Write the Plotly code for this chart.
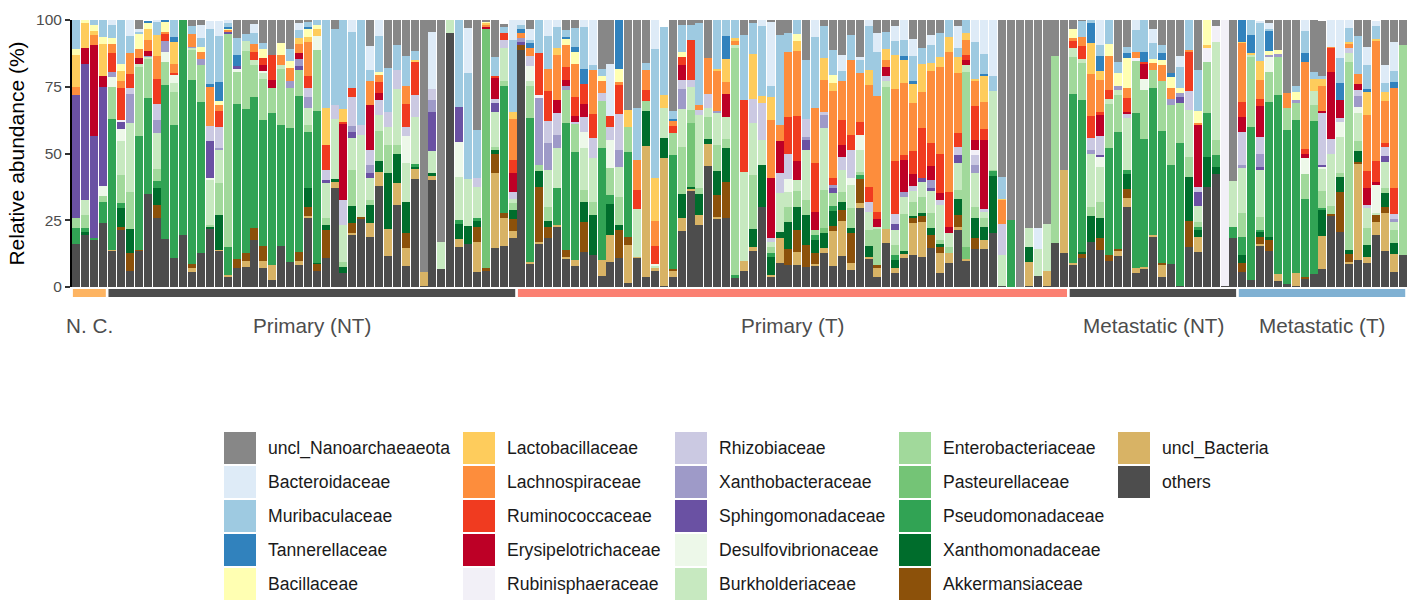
import plotly.graph_objects as go

# ---------------- data (relative abundance, %) ----------------
# 150 samples, left to right
group_names = ["N. C.", "Primary (NT)", "Primary (T)", "Metastatic (NT)", "Metastatic (T)"]
group_sizes = [4, 46, 62, 19, 19]
group_colors = ["#fdb462", "#4d4d4d", "#fb8072", "#4d4d4d", "#80b1d3"]

legend_names = [
    "uncl_Nanoarchaeaeota", "Bacteroidaceae", "Muribaculaceae", "Tannerellaceae", "Bacillaceae",
    "Lactobacillaceae", "Lachnospiraceae", "Ruminococcaceae", "Erysipelotrichaceae", "Rubinisphaeraceae",
    "Rhizobiaceae", "Xanthobacteraceae", "Sphingomonadaceae", "Desulfovibrionaceae", "Burkholderiaceae",
    "Enterobacteriaceae", "Pasteurellaceae", "Pseudomonadaceae", "Xanthomonadaceae", "Akkermansiaceae",
    "uncl_Bacteria", "others",
]
legend_colors = [
    "#878787", "#deebf7", "#9ecae1", "#3182bd", "#ffffb2",
    "#fecc5c", "#fd8d3c", "#f03b20", "#bd0026", "#f2f0f7",
    "#cbc9e2", "#9e9ac8", "#6a51a3", "#edf8e9", "#c7e9c0",
    "#a1d99b", "#74c476", "#31a354", "#006d2c", "#8c510a",
    "#d8b365", "#4d4d4d",
]

others = [16, 19.5, 17.5, 24, 13.5, 21.3, 6, 13.5, 34.7, 26,
          18, 11, 19.5, 5.7, 12.6, 22, 13.5, 4.1, 7, 7.6,
          17.6, 7, 2.6, 15.4, 9.5, 8.2, 25.7, 6.1, 11, 37,
          5.1, 19.5, 25.7, 18.9, 37.8, 11.6, 30.7, 8, 40.4, 0.4,
          40, 6.7, 95.2, 15.1, 16, 5.6, 6.1, 14.5, 15.4, 18.5,
          88.9, 8.6, 16.1, 18.5, 22.6, 10.7, 8, 13.2, 12, 4.1,
          9.5, 10.7, 1.6, 11, 3.9, 6.1, 0.4, 3.6, 21.1, 36.1,
          23.2, 45.3, 25.7, 25.7, 3.2, 6.1, 13.6, 29.9, 3.9, 8.9,
          8.2, 8.2, 7.6, 8.2, 12.9, 7.9, 11.6, 6.4, 29.5, 10.7,
          3.9, 16.6, 5.1, 10.7, 12, 11.1, 14.5, 5.1, 8.9, 21.4,
          10.1, 14.1, 14.1, 20.1, 0.4, 0, 0, 0.4, 4.1, 0.4,
          16.6, 12.6, 8.6, 10.7, 17, 13.9, 9.9, 11.6, 30.1, 5.4,
          7, 18.6, 3.9, 8.6, 0.4, 15.1, 13.2, 37.3, 42.3, 0.4,
          18.5, 5.7, 2.6, 15.5, 13.5, 2.2, 1.2, 0.5, 3.2, 4.7,
          6.7, 26.7, 20.7, 8.9, 10.1, 8.9, 19.5, 13.5, 5.7, 12]

uncl_bacteria = [0, 0, 0, 0, 0.4, 0, 0, 0, 0, 0,
                 0, 0, 0, 1.5, 0, 0, 0.4, 0.4, 0, 2.1,
                 0, 2.7, 5.6, 0, 0, 1.5, 0.9, 0, 0, 2.5,
                 0, 0.9, 0, 5, 5.4, 10, 8.1, 6.5, 4, 5.4,
                 1.5, 0, 0, 2.7, 0, 11.2, 0, 28.1, 10.4, 2.6,
                 0, 0.9, 0.9, 0, 0.6, 0.6, 2.1, 0, 0, 6,
                 10, 0, 14.1, 0.4, 48.8, 1, 47.9, 2.5, 4.6, 0.9,
                 3.7, 8.2, 0.6, 0, 0, 3.7, 1.2, 0, 0.6, 9.6,
                 0, 5, 0, 0.6, 1.6, 12.9, 13.1, 2.5, 2.1, 0.6,
                 3.1, 5, 1.9, 1.6, 11.9, 13.4, 0, 7.7, 3.7, 1,
                 0.5, 0, 3.5, 0, 0, 0, 0, 9.1, 0, 5.7,
                 0, 31.2, 0.5, 0, 0, 0, 0, 2.2, 3.1, 1.6,
                 0.6, 0.9, 4.4, 0, 0, 0, 5.4, 0, 0, 0,
                 0, 0, 0, 0.5, 0, 2.7, 0, 4.6, 0, 0,
                 12.4, 0, 0, 0.6, 36.2, 2.5, 5, 14.1, 6.5, 0]

akkermansiaceae = [0, 0, 0, 0, 0, 1.2, 6.9, 0.4, 0, 4.7,
                   0, 0, 0, 1.6, 0, 0, 0, 0, 3.5, 3.2,
                   4.6, 5.7, 0, 0, 0, 3.5, 3.5, 2.7, 10.4, 0,
                   0, 3.5, 0.4, 0, 0, 0, 0, 5.6, 0, 0,
                   0, 0, 0, 0, 0, 5.5, 0.9, 7.2, 1.9, 4.4,
                   1.9, 0, 20.4, 3.9, 0, 2.5, 0, 11.2, 0, 0,
                   0, 10.6, 3.1, 0, 0, 0, 0, 0.5, 0, 0,
                   0, 0, 8.1, 13.7, 0, 0, 0, 0, 0, 0,
                   6.2, 8.1, 8.1, 4, 0, 2.1, 4.1, 11.2, 8.7, 0,
                   1.2, 0, 0, 0, 1.9, 2.1, 5, 2.5, 0, 4.6,
                   0, 4.1, 0, 0, 0, 0, 0, 0, 0, 0,
                   0, 0, 0, 1.9, 0, 4.4, 2.1, 0.6, 3.4, 0,
                   0, 0, 0.6, 0, 0, 9.7, 0, 0, 0, 0,
                   0, 3.4, 0, 2.9, 4.1, 0, 0, 0, 0.4, 0,
                   0, 0.5, 15, 2.7, 0.6, 0, 2.5, 2.5, 0, 0]

xanthomonadaceae = [0, 1, 0, 0, 0, 7.1, 8.7, 0, 0, 6.5,
                    0, 0, 0, 0, 0, 0.6, 12.9, 0, 0, 0,
                    0, 0, 0, 0, 0, 0, 6.9, 0.3, 1.9, 1,
                    2.5, 6.5, 0, 6.9, 4.1, 21, 11.2, 11.9, 0.6, 0,
                    1.2, 0, 0, 5.7, 6.9, 2.5, 0, 1.5, 0, 3.4,
                    0, 0, 6.1, 2.5, 0, 0, 0, 7.5, 15, 0,
                    11.6, 1.9, 0, 0, 13.1, 0, 7.5, 0, 9.1, 0.6,
                    7.9, 2.1, 9.1, 12.5, 0, 0, 7.1, 15.9, 6.6, 2,
                    10, 8.7, 11.2, 4.7, 5.6, 5.4, 3.1, 1.9, 0, 4,
                    0, 0, 3.1, 1.2, 0.9, 1, 2.5, 0.7, 0, 5.9,
                    0, 7.5, 5, 21.5, 0, 0, 0, 5.4, 0, 0,
                    0, 0, 0, 0.6, 9.6, 7.5, 0, 0, 5.7, 0,
                    0, 0, 0, 0, 0, 16.5, 2.7, 11.5, 2.5, 0,
                    0, 2.9, 0, 1.9, 1.2, 0, 0, 0, 0, 0,
                    10.1, 0, 5.4, 1.6, 4, 4.4, 0, 5, 4.1, 0]

pseudomonadaceae = [6, 1.5, 1, 8, 49, 1.9, 0, 42.8, 36.2, 2.5,
                    57.7, 49.7, 80.5, 68.7, 56.6, 0, 0, 10.6, 58.1, 53.7,
                    49.1, 47.2, 56.8, 45.4, 50, 58.4, 21.2, 56.8, 0, 0,
                    0, 0, 0, 0, 0, 0, 0, 0, 1.2, 0,
                    0, 0, 0, 1.5, 0, 0.9, 0, 0, 47.7, 0,
                    0, 53.7, 0, 0, 13.7, 47.8, 40.6, 0, 0, 41.9,
                    3.4, 0, 31.9, 0, 0, 0, 0, 42.8, 0, 0,
                    0, 0, 0, 0, 1.2, 0, 0, 0, 1.5, 0,
                    0, 0, 0, 1.9, 0, 1.9, 0, 0, 1.6, 0,
                    0, 0, 1.9, 0, 0, 0, 0, 0, 0, 0,
                    0, 0, 0, 2, 0, 25.1, 0, 0, 0, 0,
                    0, 0, 63.2, 56.9, 0, 0, 40, 43.7, 1.5, 58.1,
                    47.7, 55, 49.4, 37, 53.7, 0, 1, 16.2, 4.6, 0,
                    4.1, 6.9, 57.2, 0.4, 50.6, 66.9, 57.5, 57.4, 29.3, 57.4,
                    0.5, 0, 0, 0, 0, 0, 0, 0, 0, 0]

pasteurellaceae = [0, 0, 0, 0, 0, 0, 0, 0, 0, 0,
                   0, 0, 0, 0, 0, 0, 0, 0, 0, 0,
                   0, 0, 0, 0, 0, 0, 0, 0, 0, 0,
                   0, 0, 0, 0, 0, 0, 0, 0, 0, 0,
                   0, 0, 0, 0, 0, 0, 90, 0, 0, 0,
                   0, 0, 0, 0, 0, 0, 0, 0, 0, 0,
                   0, 0, 0, 0, 0, 0, 0, 0, 0, 23.7,
                   0, 0, 0, 0, 0, 0, 0, 0, 0, 0,
                   0, 0, 0, 0, 1.9, 0, 0, 0, 0, 0,
                   0, 0, 0, 0, 0, 0, 0, 0, 0, 0,
                   4.5, 0, 0, 0, 0, 0, 0, 0, 0, 0,
                   0, 0, 0, 0, 0, 0, 0, 0, 0, 0,
                   0, 0, 0, 0, 0, 0, 0, 0, 0, 0,
                   0, 0, 0, 0, 0, 0, 0, 0, 0, 0,
                   0, 0, 0, 0, 0, 0, 0, 0, 0, 0]

enterobacteriaceae = [4, 5, 0, 2, 12.1, 10.4, 14.1, 25.8, 14.7, 4.5,
                      8.7, 12.5, 0, 11.2, 14, 0.6, 12.1, 80, 12.1, 21.7,
                      11.9, 15.4, 9.6, 21, 15, 9.7, 2.5, 23, 2.5, 0,
                      1.9, 13.5, 0, 1.9, 11.2, 10.6, 3.1, 0, 0, 0,
                      0, 0, 0, 0, 0, 0, 0, 1.2, 1.9, 2.5,
                      0, 11.9, 2.2, 5.2, 0, 12.1, 10.6, 4.4, 5, 17.5,
                      10, 10.6, 9.4, 0, 3.7, 0, 0, 8.4, 17.7, 5,
                      2.1, 7.9, 9.6, 3.7, 85, 0, 20, 0, 2.5, 0,
                      5.6, 6, 5.6, 1.9, 14.4, 5, 3.7, 7.5, 1.2, 6,
                      13.7, 53.4, 3.7, 14, 5, 6, 5.6, 1.5, 2.5, 3.5,
                      65.6, 4.4, 3.1, 0.2, 0, 0, 0, 0, 0, 0,
                      70, 0, 13.7, 13.7, 3.5, 6.2, 16.6, 13.7, 0, 19.4,
                      18.5, 6.9, 18.7, 22.5, 14.7, 7.5, 2.1, 19.4, 5.6, 0,
                      0, 8.7, 26.2, 4.9, 11.2, 14.4, 8.4, 6.6, 9.4, 6,
                      6.2, 3.2, 1.5, 70.5, 3.7, 6.2, 0, 1.9, 5, 78.7]

burkholderiaceae = [0, 5.5, 0, 0, 0, 12.7, 25.8, 1.2, 0.6, 13.4,
                    0, 3.1, 0, 0.9, 0, 16.9, 12.5, 0, 0, 3.7,
                    1.9, 2.5, 0, 1.2, 0, 0, 6.2, 0, 13, 22.5,
                    13.7, 11.9, 30.9, 8.1, 5.9, 6.6, 21.2, 14.4, 17.5, 0,
                    8.2, 10.2, 4.8, 16.2, 17.5, 11.9, 0, 13.1, 12.2, 1.6,
                    0, 2.2, 0, 13.7, 15, 0, 0, 15.6, 16.2, 0,
                    0, 11.2, 0, 17.7, 0, 0.9, 11.2, 0, 14, 8.5,
                    27.5, 3.7, 11.9, 8.1, 1.2, 33.4, 19.4, 9.4, 1.9, 14.6,
                    5.6, 4.2, 18.7, 0, 23.1, 0, 8.1, 8.7, 8.1, 6.9,
                    0.6, 2.2, 5.6, 6.2, 4.2, 5.9, 8.7, 13.1, 5, 10.2,
                    2.4, 12.5, 2.5, 29.7, 11.6, 0, 0, 7.1, 10, 17.5,
                    0, 0, 3.7, 1.5, 19.7, 13.1, 1.7, 1.9, 19.4, 0,
                    0, 0, 0, 0, 0, 17.5, 5.9, 0, 36.8, 0,
                    17.2, 16.9, 0.9, 17.9, 0, 0, 0, 0, 0, 5.2,
                    8.2, 19.6, 13.7, 3.5, 10.4, 7.5, 0.6, 10, 2.9, 0]

desulfovibrionaceae = [0, 0, 0, 4, 3.7, 4.4, 0, 0, 0, 0,
                       3.7, 3.1, 0, 0, 0, 0.6, 0, 0, 1, 0,
                       0, 0.5, 0, 0, 0, 0, 0, 5.2, 0, 0,
                       0, 0, 0, 0, 0, 0, 0, 10, 0, 0,
                       0, 0, 0, 13.1, 0, 0, 0, 0, 0, 0,
                       0, 5.5, 0, 0, 0, 0, 0, 6.2, 0, 0,
                       10.6, 0, 0, 0, 0, 0.6, 0, 0, 0, 0,
                       0, 0, 0, 0, 0, 0, 0, 0, 0, 0,
                       5, 0, 0, 0, 0, 0, 0, 2.5, 5.6, 0,
                       0, 0, 0, 0, 0, 0, 0, 0, 0, 0,
                       0, 0, 0, 0, 0, 0, 0, 0, 0, 0,
                       0, 0, 0, 0, 0, 3.7, 0, 0, 0, 0,
                       4.2, 0, 0, 0, 0, 0, 0, 0, 0, 0,
                       0, 0, 0, 0, 5.6, 0, 0, 0, 5.9, 0,
                       0.9, 0, 5.4, 0, 2.5, 0, 10.6, 0, 0, 0]

sphingomonadaceae = [46, 51, 38, 37, 0, 2.9, 0, 0, 0, 0,
                     0, 0, 0, 0, 0, 14, 0, 0.6, 1.2, 0,
                     0, 0, 0, 0, 0, 1.5, 0, 0, 1.2, 0,
                     0, 2.1, 0, 1.9, 0, 0, 0, 0, 0, 0,
                     14.6, 0, 0, 13.1, 0, 0, 0, 3.4, 0, 0,
                     1, 0, 0, 0, 0, 0, 0, 0, 0, 0,
                     0, 0, 0, 0, 0, 0, 0, 0, 0, 0,
                     0, 0, 0, 0, 0, 0, 0, 0, 0, 0,
                     0, 0, 4, 0, 0, 1.9, 0, 0, 0, 0,
                     0, 0, 2.2, 0, 0, 1.2, 0.6, 0, 0, 2.9,
                     0, 0, 0, 0, 0, 0, 0, 0, 0, 0,
                     0, 0, 0, 0, 0, 0.6, 0, 0, 0, 0,
                     0, 0, 0, 0, 2.2, 0, 5.4, 0, 0, 0,
                     0, 0, 0, 1, 0, 0, 0, 0, 0, 0,
                     0.6, 0, 0, 0, 0, 0, 0, 2.2, 0, 0]

xanthobacteraceae = [0, 0, 0, 0, 1.9, 0, 10.7, 0, 0.4, 5,
                     4, 0, 0, 0.4, 2.2, 0, 0.6, 0, 0, 0,
                     0, 0, 0, 0, 2.5, 2.5, 4.4, 0, 0, 0,
                     0, 2.5, 0, 3.1, 0, 0, 0, 0, 0, 0,
                     4.4, 0, 0, 0, 0, 0, 0, 0, 0, 0,
                     1.5, 0, 25, 10.2, 5, 1.6, 0, 0, 0, 0,
                     0, 6.2, 0, 0, 0, 0, 0, 0, 7.5, 0,
                     0, 0, 1, 0, 0, 0, 0, 0, 0, 0,
                     0, 0, 1, 0, 5, 1.2, 0, 0, 0, 0,
                     0, 0, 0, 1.9, 0, 0, 3.1, 0, 0, 0,
                     0, 3.1, 0, 0, 0, 0, 0, 0, 0, 0,
                     0, 0, 0, 0, 1.5, 0, 0, 1.5, 0, 0,
                     0, 0, 0, 2.5, 1.7, 0, 0, 0, 0, 0,
                     0, 1.2, 0, 5, 0.6, 1, 0, 0.9, 0, 0,
                     0, 0, 0, 0, 4.1, 0, 0, 0, 1.2, 0]

rhizobiaceae = [0, 0, 0, 0, 0, 0, 2.4, 0, 0, 5.9,
                0, 0, 0, 0, 0, 5.7, 8.1, 0, 0, 0,
                0, 0, 0, 0, 0, 0, 3.1, 0, 3.7, 5,
                9.4, 10.7, 3.5, 5.4, 5.6, 5.9, 6.9, 3.4, 8.1, 0,
                4.4, 0, 0, 0, 0, 3.4, 0, 1.4, 2.9, 2.7,
                0, 3.7, 0, 8.2, 8.1, 0, 0.6, 5.6, 7.5, 3.1,
                4.7, 13.7, 0, 0, 0, 0, 0, 0, 3.5, 2.7,
                1.9, 5.2, 0, 0, 0, 0, 9, 13.7, 1.2, 7.5,
                9.1, 0, 6.9, 0, 0.9, 0, 5, 10.6, 0, 3.7,
                0, 1.7, 4, 0, 1.9, 0, 0, 1.9, 0, 3.1,
                0, 3.7, 1.2, 0, 11.6, 0, 0, 0, 0, 0,
                0, 0, 0, 0, 4.4, 7.1, 0, 0, 1.9, 0,
                0, 0, 0, 0, 0, 7.2, 1.6, 0, 0, 0,
                0, 12.5, 0, 6.1, 0, 0, 0, 0, 0, 0,
                19.6, 5.4, 1.7, 1.9, 2.1, 1.2, 0, 3.4, 1.9, 0]

rubinisphaeraceae = [0, 0, 0, 0, 0, 0.5, 0, 0, 0, 0,
                     0, 0, 0, 0, 0, 0, 0, 0, 0, 0,
                     0, 0, 0, 0, 0, 0, 0, 0, 0, 0,
                     0, 0, 0, 0, 0, 0, 0, 0, 0, 0,
                     0, 0, 0, 0, 0, 0, 0, 0, 0, 0,
                     0, 0, 1.2, 0, 0, 0, 0, 0, 0, 0,
                     0, 0, 0, 0, 0, 0, 0, 0, 0, 0,
                     0, 0, 0, 0, 0, 0, 0, 0, 0, 0,
                     0, 0, 0, 0, 0, 0, 0, 0, 0, 0,
                     0, 0, 0, 0, 0, 0, 0, 0, 0, 0,
                     0, 1.9, 0, 0, 0, 0, 0, 0, 0, 0,
                     0, 0, 0, 0, 0, 0, 0, 0, 0, 1.2,
                     0, 0, 0, 0, 0, 0, 0, 5, 5.9, 99.6,
                     0, 0, 0, 0, 0, 0, 0, 0, 0, 0,
                     0, 0, 0, 0, 0, 0, 0, 0, 0, 0]

erysipelotrichaceae = [0, 6, 34, 4, 0, 0, 0, 2.1, 1.7, 0,
                       0, 0, 0, 0, 0, 0, 0, 0, 0, 0,
                       0, 2.2, 2.9, 0, 0, 2.2, 0, 0, 0, 0,
                       28.7, 0, 0, 16.8, 2.5, 0, 0, 0, 0, 0,
                       0, 0, 0, 0, 0, 0, 0.6, 8.1, 0, 6.9,
                       0, 0, 0, 0, 5, 2.1, 2.1, 4.7, 0, 0,
                       0, 0, 0, 0, 0, 0, 0, 0, 5.6, 0,
                       0, 0, 0, 8.5, 0, 0, 0, 0, 22.5, 12.2,
                       0, 6.9, 0, 6.9, 0, 0, 4.4, 0, 0, 0,
                       3.1, 3.5, 0, 11.9, 4.4, 0, 5.2, 2.7, 2.5, 0,
                       1.9, 3.7, 25.8, 0, 0, 0, 0, 0, 0, 0,
                       0, 0, 0, 0, 0, 7.9, 0, 0, 0.6, 0,
                       5.4, 0, 0, 0, 0, 0, 23.4, 0, 0, 0,
                       0, 5.6, 0, 11.6, 0, 0, 0, 0, 1.6, 0,
                       0.7, 25, 6.6, 0, 2.5, 6.5, 1.2, 0, 0, 0]

ruminococcaceae = [0, 0, 0, 0, 7.2, 12.2, 5, 0, 0, 9.5,
                   2.5, 0.6, 0, 0, 0, 0, 5.9, 0, 0, 0,
                   2.9, 2.5, 9.4, 0, 0, 0, 4.6, 0, 9.4, 0,
                   0.6, 3.4, 0, 0, 4.4, 0, 0, 8.9, 12.7, 0,
                   0, 0, 0, 0, 0, 0, 0, 0.5, 2.7, 5,
                   0, 0, 15.9, 11.2, 0, 5, 7.2, 7.7, 9.1, 0,
                   4.2, 10.6, 0, 7.2, 4.4, 6.9, 0, 2.5, 3.1, 15,
                   0, 0, 0, 0, 0, 26.9, 0, 0, 0, 0,
                   14, 16.9, 0, 18.1, 0, 2.5, 9.4, 5.6, 5, 5.6,
                   2.5, 0, 19.7, 1.9, 8.7, 18.7, 8.7, 14.5, 13.1, 5.2,
                   1.9, 12.7, 4.1, 0, 0, 0, 0, 0, 0, 0,
                   0, 0, 2.5, 5, 8.4, 1.3, 3.5, 0, 5, 0,
                   1, 0, 0, 0, 0, 14.6, 0, 0, 0, 0,
                   0, 5.6, 0, 2.9, 0, 0, 0, 0, 1.9, 0,
                   0, 9.2, 0, 0, 0, 6.2, 7.7, 1.5, 9.9, 0]

lachnospiraceae = [3, 0, 4, 0, 3.1, 2.5, 8.1, 3.5, 4.1, 8.4,
                   1, 3.7, 0, 4.6, 2.7, 14.6, 2.2, 0.6, 0, 0,
                   3.1, 0, 0, 3.8, 5, 3.7, 12.9, 0, 0, 0,
                   0, 0, 0, 9.1, 2.5, 0, 0, 6.7, 0, 0,
                   0, 0, 0, 0, 0, 0, 0.5, 0, 0, 15.2,
                   2, 3.1, 0, 8.4, 16.9, 8.1, 12.5, 0, 16.3, 4.4,
                   0, 1.2, 0, 11.2, 7.5, 9.4, 0, 2, 0, 0,
                   1.9, 13.5, 15.2, 4.6, 1.9, 0, 0, 0, 21.9, 5.9,
                   24.4, 24.4, 0, 20.6, 12.2, 32.5, 14.6, 28.1, 18.4, 38.1,
                   43.4, 2.5, 27.1, 26.9, 18.1, 13.7, 27, 32.7, 52.5, 22.5,
                   5.6, 9.7, 10, 0, 9, 0, 0, 0, 0, 0,
                   0, 0, 0.9, 3.5, 15.7, 11.9, 12.7, 0, 3.7, 2.2,
                   0, 2.5, 6.2, 4.1, 0, 0.6, 0.6, 0, 0, 0,
                   0, 22.1, 0, 7.1, 0, 0, 5.7, 0, 32.5, 0,
                   9.4, 0.2, 0, 1.5, 3.4, 21.2, 45, 15.6, 37.5, 0]

lactobacillaceae = [12, 9.5, 1.5, 12, 0, 3.7, 0, 0, 4.1, 8.1,
                    0, 8.1, 0, 0, 0, 0, 0, 0, 0, 0,
                    0, 0, 0, 0, 0, 2.1, 1.6, 2.5, 14, 0,
                    4.6, 0, 0, 0, 0, 0, 0, 0, 0.6, 0,
                    0, 0, 0, 0, 0, 0, 1, 0, 0, 2.9,
                    0, 0, 0, 0, 2.5, 0, 0, 0, 0, 0,
                    0, 0, 6.2, 0, 0, 15.9, 5, 0, 0, 0,
                    0, 0, 0.6, 8.7, 0.6, 0, 17, 2.5, 8.7, 0,
                    0, 3.7, 0, 0, 8.1, 3.1, 0, 0, 0, 5.6,
                    0, 4.4, 12.5, 8.7, 6.9, 10.6, 3, 3.7, 5.6, 6,
                    2.5, 0.6, 10, 0, 0.2, 0, 0, 0, 0, 0,
                    0, 0, 0, 0, 11.7, 3.4, 0, 0, 0, 0,
                    0, 0, 0, 0, 0, 0, 0, 1.2, 0, 0,
                    0, 0.4, 0.9, 6.9, 0, 0, 0, 0, 0, 4.5,
                    2.5, 0, 0, 0.4, 0, 8.5, 0.9, 3.5, 0, 0]

bacillaceae = [2, 1, 2, 2.5, 2.4, 2.9, 0, 5.4, 2.7, 0,
               3.5, 0, 0, 0, 1.9, 0, 1.5, 0.6, 0, 0,
               0, 3.5, 0, 4.6, 2.5, 0, 3.4, 1.5, 0, 0,
               0, 0, 0, 0, 1.2, 0, 0, 0, 0, 0,
               0, 0, 0, 0, 0, 0, 0.5, 0, 0, 0,
               0, 0, 0, 0, 0, 2.5, 4.4, 0, 0, 2.1,
               0, 5, 0, 0, 0, 0, 0, 0, 1.9, 0,
               0, 0, 0, 0, 0, 0, 0, 0, 0, 0,
               0, 2.7, 0, 0, 0, 2.9, 0, 0, 0, 0,
               0, 0, 0, 0, 0, 0, 0, 0, 0, 0,
               0, 0, 0, 0, 0, 0, 0, 0, 0, 0,
               0, 0, 3.4, 0, 0, 0, 4.7, 5, 11.2, 0,
               0, 1.5, 1.9, 4, 2, 0, 4.7, 9.4, 0, 0,
               0, 0, 0, 0, 1.5, 1.5, 0, 2.9, 0, 0,
               0, 0, 0, 0, 0, 0, 0, 0, 0, 0]

tannerellaceae = [0, 0, 0, 0, 0, 0, 0, 0, 0.6, 0,
                  0.9, 1.9, 0, 0, 0, 1, 7.2, 0.6, 4, 0,
                  0, 0, 0, 0, 0, 0, 0.3, 0, 0, 0,
                  0, 0, 0, 0, 0, 0, 0, 0, 0, 0,
                  0, 0, 0, 0, 0, 0, 0, 0, 0, 0,
                  1.5, 1.9, 0, 0, 0, 0.6, 1.9, 5.6, 0, 0,
                  0, 18.3, 0, 0, 0, 0, 0, 0.7, 0, 0,
                  0, 0, 0, 8.4, 0, 0, 0, 0, 0, 0,
                  0, 0, 0, 0, 0, 0, 0, 0, 0, 0,
                  0, 0, 0, 1.5, 1.2, 0, 0, 0, 0, 0,
                  0, 0, 0.6, 0, 0, 0, 0, 0, 0, 0,
                  0, 0, 0, 0, 7.5, 5.5, 0, 0, 1.9, 0,
                  3.7, 0, 2.5, 1.5, 0, 0, 0, 0, 0, 0,
                  0, 8.1, 6.6, 0, 7.5, 0, 0, 0, 3.6, 0,
                  0, 0, 6.5, 0, 0, 1, 0, 0, 2.2, 0]

muribaculaceae = [11, 0, 2, 6.5, 4.7, 16.2, 6.4, 0.9, 0, 4.7,
                  0, 6.2, 0, 3.1, 3.1, 20.6, 17.2, 1.4, 6.5, 2.9,
                  4, 2.1, 0, 0, 4.5, 2.9, 1.9, 1.9, 32.9, 28.5,
                  33.5, 21.1, 39.5, 4, 13.4, 16.2, 9.4, 11, 3.3, 0,
                  0, 0, 0, 32.6, 39.6, 17.8, 0, 7.2, 2.2, 26.8,
                  1.2, 1, 12.2, 12.2, 8.1, 2.5, 6.9, 15.6, 2.2, 2.5,
                  0, 0, 0, 19.7, 2.5, 48.5, 25.5, 3, 10, 5.6,
                  30.6, 0, 18.2, 6.1, 6.9, 24.4, 11.5, 26.4, 4, 33.8,
                  6.9, 5.2, 22.1, 26.9, 11.9, 9.6, 3.9, 9.4, 4.7, 16.6,
                  16.6, 6.3, 5.4, 6, 9.4, 5.7, 6.6, 8.9, 6.2, 3.1,
                  5, 13.8, 7.3, 5.5, 8.5, 0, 0, 0, 0, 0,
                  0, 0, 0, 6, 1, 4.1, 8.8, 4.1, 2.5, 8.4,
                  11.9, 6, 3.1, 0, 7.7, 11.3, 15.2, 0, 0, 0,
                  0, 0, 5.6, 14.6, 1, 0, 0, 2.4, 7.9, 2.7,
                  1.2, 0, 9.4, 5.5, 14.5, 9, 4.7, 3.1, 4, 0]

bacteroidaceae = [0, 0, 0, 0, 1.9, 0, 5.9, 1.2, 0, 0.9,
                  0, 0, 0, 0, 5, 3.1, 5.5, 1.2, 0, 0,
                  3.5, 0, 0, 0, 0, 2.7, 0, 0, 0, 0,
                  0, 4.4, 0, 9, 6, 0, 0, 0, 0, 0,
                  21.3, 0, 0, 0, 16.9, 0, 0, 0, 0, 7.5,
                  2, 4, 0, 6, 2.5, 0, 0, 2.7, 16.7, 0,
                  19.5, 0, 0, 0, 0, 10.7, 0, 0, 0, 0,
                  0, 0, 0, 0, 0, 0, 0, 2.2, 24.1, 0,
                  0, 0, 0, 6.2, 0, 0, 5.9, 0, 1.2, 2.2,
                  6.9, 0, 5.6, 7.5, 6.4, 0, 3.7, 0, 0, 8.4,
                  0, 8.2, 12.8, 21, 0, 0, 0, 0, 7.9, 0,
                  0, 0, 0, 0, 0, 9.4, 0, 0, 0, 3.7,
                  0, 5.2, 0, 0, 4, 0, 0, 0, 0, 0,
                  0, 0, 0, 0.6, 2.2, 0, 0, 0, 4.4, 0,
                  0, 10.1, 14.1, 2.9, 0, 6.9, 1.9, 6.9, 10.7, 0]

uncl_nanoarchaeaeota = [0, 0, 0, 0, 0, 0, 0, 3.1, 0, 0,
                        0, 0, 0, 2.2, 1.9, 0, 0, 0, 6.6, 5,
                        1.5, 8.7, 13.1, 8.6, 11, 1.1, 0.9, 0, 0, 3.5,
                        0, 0, 0, 9.9, 0, 18.1, 9.4, 13.6, 11.6, 94.2,
                        4.4, 83.1, 0, 0, 3.1, 41.2, 0.4, 13.8, 1.1, 0,
                        0, 3.5, 0, 0, 0, 3.9, 3.1, 0, 0, 18.4,
                        16.5, 0, 33.7, 32.8, 16.1, 0, 0, 34, 1.9, 1.9,
                        1.2, 14.1, 0, 0, 0, 5.5, 1.2, 0, 0.6, 5.5,
                        5, 0, 14.8, 0, 2.4, 11.1, 13.1, 5.6, 13.9, 0,
                        5, 4.4, 2.2, 0, 7.1, 10.6, 5.8, 5, 0, 2.2,
                        0, 0, 0, 0, 58.7, 74.9, 100, 78, 78, 76.4,
                        13.4, 56.2, 3.5, 0.2, 0, 0, 0, 15.7, 10, 0,
                        0, 3.4, 9.3, 19.8, 13.6, 0, 18.8, 0, 2.3, 0,
                        60.2, 0, 0, 0, 0.9, 11.2, 27.1, 24.7, 0, 19.4,
                        20.8, 0, 0, 0, 5.9, 10, 0, 16.9, 8.4, 9.3]

# series in legend order (top of the stack first)
series = [uncl_nanoarchaeaeota, bacteroidaceae, muribaculaceae, tannerellaceae, bacillaceae,
          lactobacillaceae, lachnospiraceae, ruminococcaceae, erysipelotrichaceae, rubinisphaeraceae,
          rhizobiaceae, xanthobacteraceae, sphingomonadaceae, desulfovibrionaceae, burkholderiaceae,
          enterobacteriaceae, pasteurellaceae, pseudomonadaceae, xanthomonadaceae, akkermansiaceae,
          uncl_bacteria, others]

# ---------------- layout geometry ----------------
W, H = 1411, 604
ML, MR, MT, MB = 72, 4, 20, 317
PW = W - ML - MR
PH = H - MT - MB
FONT = "Liberation Sans, Arial, Helvetica, sans-serif"

def fx(px):
    return (px - ML) / PW

def fy(py):
    return (H - MB - py) / PH

n_samples = len(others)
x = list(range(1, n_samples + 1))

fig = go.Figure()
# bottom of stack first
for name, color, vals in reversed(list(zip(legend_names, legend_colors, series))):
    fig.add_trace(go.Bar(
        x=x, y=vals, name=name, width=0.9,
        marker=dict(color=color, line=dict(width=0)),
        showlegend=False,
        hovertemplate=name + "<br>sample %{x}: %{y}%<extra></extra>",
    ))

shapes = []
annotations = []

# group bars and labels under the axis
start = 1
for g, n, c in zip(group_names, group_sizes, group_colors):
    end = start + n - 1
    shapes.append(dict(type="rect", xref="x", yref="paper",
                       x0=start - 0.4, x1=end + 0.3, y0=fy(297), y1=fy(289),
                       fillcolor=c, line=dict(width=0)))
    annotations.append(dict(xref="x", yref="paper", x=(start + end) / 2, y=fy(325),
                            text=g, showarrow=False, xanchor="center", yanchor="middle",
                            font=dict(size=20.7, color="#4d4d4d", family=FONT)))
    start = end + 1

# legend drawn as key squares + labels (5 rows per column)
col_key_x = [224, 463, 675, 899, 1118]
row_key_y = [432, 466, 500, 534, 568]
KEY = 32
for k, (name, color) in enumerate(zip(legend_names, legend_colors)):
    c, r = divmod(k, 5)
    kx, ky = col_key_x[c], row_key_y[r]
    shapes.append(dict(type="rect", xref="paper", yref="paper",
                       x0=fx(kx), x1=fx(kx + KEY), y0=fy(ky + KEY), y1=fy(ky),
                       fillcolor=color, line=dict(width=0)))
    annotations.append(dict(xref="paper", yref="paper", x=fx(kx + 42), y=fy(ky + KEY / 2),
                            text=name, showarrow=False, xanchor="left", yanchor="middle",
                            font=dict(size=17.6, color="#1a1a1a", family=FONT)))

fig.update_layout(
    width=W, height=H,
    margin=dict(l=ML, r=MR, t=MT, b=MB, autoexpand=False),
    paper_bgcolor="white", plot_bgcolor="white",
    barmode="stack", bargap=0,
    font=dict(family=FONT),
    showlegend=False,
    shapes=shapes,
    annotations=annotations,
    xaxis=dict(range=[0.5, n_samples + 0.5], showticklabels=False, showgrid=False,
               zeroline=False, showline=False, ticks="", fixedrange=True),
    yaxis=dict(range=[0, 100], tickvals=[0, 25, 50, 75, 100], ticks="outside",
               ticklen=5, tickwidth=1.5, tickcolor="#333333",
               showline=True, linecolor="#000000", linewidth=2,
               showgrid=False, zeroline=False,
               tickfont=dict(size=15.5, color="#4d4d4d", family=FONT),
               title=dict(text="Relative abundance (%)", standoff=6,
                          font=dict(size=21, color="#000000", family=FONT))),
)

fig.write_html("out.html",
               config={"displayModeBar": False},
               post_script="document.body.style.margin='0px';document.body.style.overflow='hidden';")
